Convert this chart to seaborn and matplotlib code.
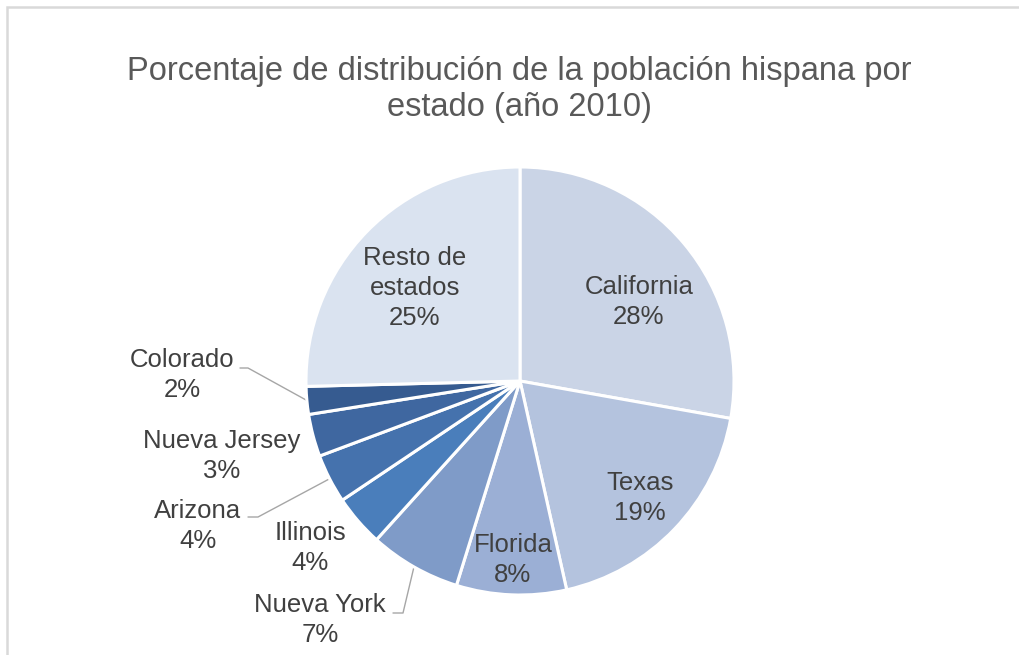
import numpy as np
import matplotlib
matplotlib.use("Agg")
import matplotlib.pyplot as plt
import seaborn as sns
from matplotlib.patches import Rectangle

# ---- data ----
states = ["California", "Texas", "Florida", "Nueva York", "Illinois",
          "Arizona", "Nueva Jersey", "Colorado", "Resto de\nestados"]
shares = [27.8, 18.7, 8.3, 6.9, 3.9, 3.7, 3.2, 2.1, 25.4]
pct_labels = ["28%", "19%", "8%", "7%", "4%", "4%", "3%", "2%", "25%"]
title = "Porcentaje de distribución de la población hispana por\nestado (año 2010)"

colors = ["#cad4e6", "#b4c3de", "#9bafd5", "#7f9bc8", "#4a7ebb",
          "#4572ad", "#3f67a0", "#365b90", "#dae3f0"]

sns.set_theme(style="white")
plt.rcParams['font.family'] = ['Liberation Sans', 'DejaVu Sans']

W, H = 1020, 655
fig = plt.figure(figsize=(W / 100, H / 100), dpi=100)
fig.patch.set_facecolor("white")

cx, cy, R = 520, 381, 214
ax = fig.add_axes([(cx - R) / W, (H - cy - R) / H, 2 * R / W, 2 * R / H])
wedges, _ = ax.pie(shares, colors=colors, startangle=90, counterclock=False,
                   radius=1, wedgeprops=dict(edgecolor="white", linewidth=2.2))
ax.set_xlim(-1, 1)
ax.set_ylim(-1, 1)
ax.set_aspect("equal")
ax.axis("off")


def px2d(px, py):
    return (px - cx) / R, (cy - py) / R


# label positions (pixel centres in the layout)
label_pos = {
    "California": (639, 302),
    "Texas": (640, 498),
    "Florida": (513, 560),
    "Nueva York": (320, 620),
    "Illinois": (310, 548),
    "Arizona": (198, 526),
    "Nueva Jersey": (222, 456),
    "Colorado": (182, 375),
    "Resto de\nestados": (415, 288),
}
txt_color = "#404040"
for name, pct in zip(states, pct_labels):
    x, y = px2d(*label_pos[name])
    ax.text(x, y, f"{name}\n{pct}", ha="center", va="center", fontsize=18.5,
            color=txt_color, linespacing=1.32, clip_on=False)

# leader lines: from wedge edge to elbow near label
leaders = {
    "Colorado": [(240, 368), (248, 368)],
    "Arizona": [(248, 517), (258, 517)],
    "Nueva York": [(393, 613), (403, 613)],
}
for name, pts in leaders.items():
    w = wedges[states.index(name)]
    mid = np.deg2rad((w.theta1 + w.theta2) / 2)
    ex, ey = np.cos(mid), np.sin(mid)
    p = [px2d(*q) for q in pts] + [(ex, ey)]
    ax.plot([a for a, b in p], [b for a, b in p], color="#a6a6a6", lw=1.0,
            clip_on=False, zorder=0.5)

fig.text(519 / W, 1 - 89.5 / H, title, ha="center", va="center",
         fontsize=23.5, color="#595959", linespacing=1.18)

fig.add_artist(Rectangle((7 / W, -0.1), 1.2, (H - 7) / H + 0.1,
                         transform=fig.transFigure, fill=False,
                         ec="#d9d9d9", lw=1.8))

fig.savefig("out.png", dpi=100)
